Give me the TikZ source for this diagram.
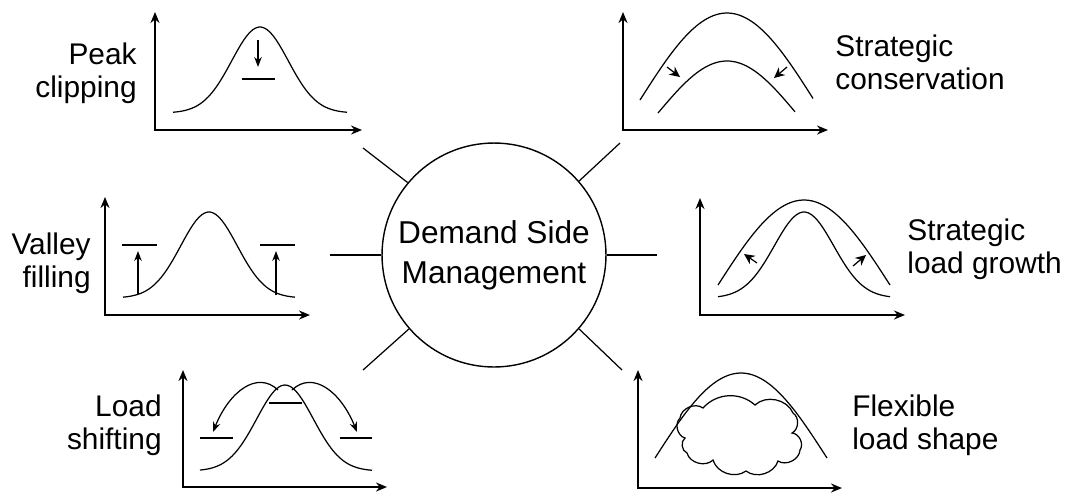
\documentclass[tikz,border=0pt]{standalone}
\usepackage{fontspec}
\setmainfont{Liberation Sans}
\usetikzlibrary{arrows.meta}

\begin{document}
\begin{tikzpicture}[
    x=0.02cm, y=-0.02cm,
    declare function={bell(\t,\c,\s)=exp(-((\t-\c)/\s)*((\t-\c)/\s)); arch(\t,\c,\w)=1-cos(90*(\t-\c)/\w);},
    axis/.style={{Stealth[length=2.2mm, width=1.8mm]}-{Stealth[length=2.2mm, width=1.8mm]}, line width=1pt},
    curve/.style={line width=0.7pt, samples=60},
    shiftarrow/.style={-{Stealth[length=2mm, width=1.5mm]}, line width=0.7pt},
    tinyarrow/.style={-{Stealth[length=2.1mm, width=2mm]}, line width=0.7pt},
    bar/.style={line width=0.8pt},
    spoke/.style={line width=0.7pt},
    puff/.style={bend left=#1},
    puff/.default=60,
    hub/.style={draw, circle, line width=0.8pt, minimum size=4.48cm, inner sep=0pt, align=center, font=\fontsize{18}{22.7}\selectfont},
    lbl/.style={inner sep=0pt, font=\fontsize{17}{19.3}\selectfont}
]
\useasboundingbox (0,0) rectangle (1070,495);

% Hub
\node[hub] (dsm) at (494,255) {Demand Side\\Management};

% Spoke ends
\coordinate (peak) at (363,148);
\coordinate (cons) at (620,143);
\coordinate (valley) at (330,255);
\coordinate (growth) at (657,255);
\coordinate (shift) at (363,370);
\coordinate (flex) at (622,370);

% Spokes
\draw[spoke] (dsm.140) -- (peak);
\draw[spoke] (dsm.41) -- (cons);
\draw[spoke] (dsm.180) -- (valley);
\draw[spoke] (dsm.0) -- (growth);
\draw[spoke] (dsm.221) -- (shift);
\draw[spoke] (dsm.319) -- (flex);

% Peak clipping
\node[lbl, anchor=north east, align=right] (peaklbl) at (137,42) {Peak\\clipping};
\draw[axis] (155,12) |- (362,130);
\draw[curve] plot[domain=173:347] (\x, {113-86*bell(\x,260,40)});
\draw[shiftarrow] (258,40) -- (258,67);
\draw[bar] (242,79) -- (275,79);

% Strategic conservation
\node[lbl, anchor=north west, align=left] (conslbl) at (835,34) {Strategic\\conservation};
\draw[axis] (623,12) |- (828,130);
\draw[curve] plot[domain=640:813] (\x, {13+87*arch(\x,727,87)});
\draw[curve] plot[domain=658:795] (\x, {61+52*arch(\x,727,69)});
\draw[tinyarrow] (667,67) -- (680,77);
\draw[tinyarrow] (787,67) -- (774,78);

% Valley filling
\node[lbl, anchor=north east, align=right] (valleylbl) at (91,232) {Valley\\filling};
\draw[axis] (105,197) |- (310,315);
\draw[curve] plot[domain=123:295] (\x, {298-86*bell(\x,209,40)});
\draw[shiftarrow] (138,294) -- (138,251);
\draw[bar] (122,245) -- (157,245);
\draw[shiftarrow] (276,295) -- (276,251);
\draw[bar] (260,245) -- (295,245);

% Strategic load growth
\node[lbl, anchor=north west, align=left] (growthlbl) at (907,218) {Strategic\\load growth};
\draw[axis] (700,198) |- (905,315);
\draw[curve] plot[domain=718:890] (\x, {200+85*arch(\x,804,86)});
\draw[curve] plot[domain=718:890] (\x, {298-86*bell(\x,804,42)});
\draw[tinyarrow] (757,263) -- (744,254);
\draw[tinyarrow] (853,266) -- (866,255);

% Load shifting
\node[lbl, anchor=north east, align=right] (shiftlbl) at (162,394) {Load\\shifting};
\draw[axis] (183,370) |- (387,487);
\draw[curve] plot[domain=200:372] (\x, {471-86*bell(\x,285,40)});
\draw[bar] (269,403) -- (302,403);
\draw[bar] (200,438) -- (233,438);
\draw[bar] (340,438) -- (372,438);
\draw[shiftarrow] (278,390) .. controls (257,370) and (229,392) .. (213,432);
\draw[shiftarrow] (292,390) .. controls (313,370) and (341,392) .. (357,432);

% Flexible load shape
\node[lbl, anchor=north west, align=left] (flexlbl) at (852,394) {Flexible\\load shape};
\draw[axis] (638,370) |- (842,488);
\draw[curve] plot[domain=655:827] (\x, {373+85*arch(\x,741,86)});
\draw[curve] (680,418) to[puff] (703,408) to[puff=45] (755,405) to[puff=55] (793,413)
    to[puff] (792,433) to[puff] (800,450) to[puff] (778,461) to[puff=55] (746,471)
    to[puff=55] (713,460) to[puff] (687,453) to[puff] (685,438) to[puff] cycle;

\end{tikzpicture}
\end{document}
